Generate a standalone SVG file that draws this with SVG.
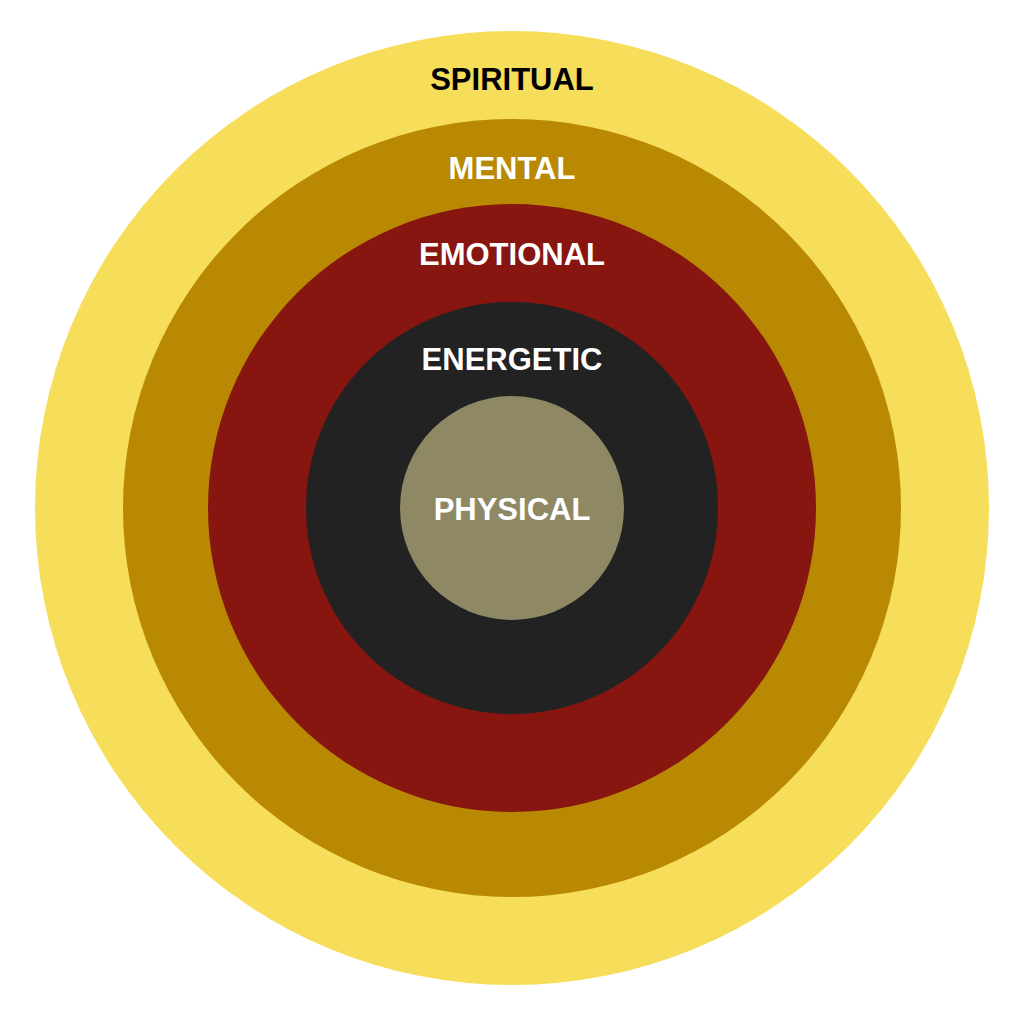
<svg xmlns="http://www.w3.org/2000/svg" width="1024" height="1013" viewBox="0 0 1024 1013">
<style>text{font-family:"Liberation Sans",Arial,sans-serif;font-weight:bold;font-size:31px;text-anchor:middle}.w{fill:#fff}</style>
<rect width="1024" height="1013" fill="#fff"/>
<g id="spiritual"><circle cx="512" cy="508" r="477" fill="#f6dd5a"/><text x="512" y="90" fill="#000">SPIRITUAL</text></g>
<g id="mental"><circle cx="512" cy="508" r="389" fill="#b98903"/><text class="w" x="512" y="179">MENTAL</text></g>
<g id="emotional"><circle cx="512" cy="508" r="304" fill="#86160f"/><text class="w" x="512" y="265">EMOTIONAL</text></g>
<g id="energetic"><circle cx="512" cy="508" r="206" fill="#222222"/><text class="w" x="512" y="370">ENERGETIC</text></g>
<g id="physical"><circle cx="512" cy="508" r="112" fill="#8e8865"/><text class="w" x="512" y="520">PHYSICAL</text></g>
<g id="connectors"/>
</svg>
